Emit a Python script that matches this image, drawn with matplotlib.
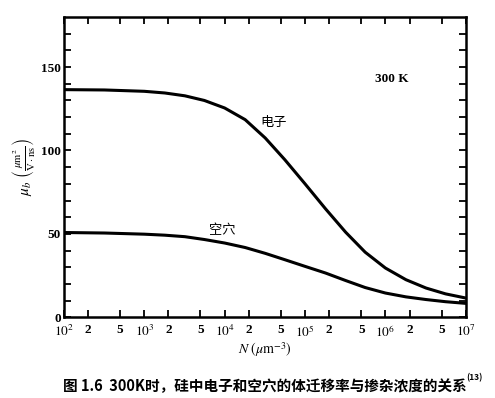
"""
300K 时硅中电子和空穴的体迁移率与掺杂浓度的关系
"""

import matplotlib
matplotlib.use("Agg")
import matplotlib.pyplot as plt

# 数据，N 单位 μm^-3，迁移率单位 μm^2/(V·ns)
n_values = [1e2, 3.2e2, 1e3, 1.8e3, 3.2e3, 5.6e3, 1e4, 1.8e4, 3.2e4, 5.6e4,
            1e5, 1.8e5, 3.2e5, 5.6e5, 1e6, 1.8e6, 3.2e6, 5.6e6, 1e7]
mu_electron = [136.5, 136.3, 135.5, 134.5, 132.8, 130.0, 125.5, 118.5, 107.5,
               94.5, 80.0, 65.0, 51.0, 39.0, 29.5, 22.5, 17.5, 14.0, 11.5]
mu_hole = [50.8, 50.5, 49.8, 49.2, 48.3, 46.6, 44.5, 41.8, 38.3,
           34.5, 30.5, 26.5, 22.0, 17.8, 14.5, 12.2, 10.6, 9.3, 8.3]

x_ticks = [1e2, 2e2, 5e2, 1e3, 2e3, 5e3, 1e4, 2e4, 5e4, 1e5, 2e5, 5e5,
           1e6, 2e6, 5e6, 1e7]
x_tick_labels = [r"$10^2$", "2", "5", r"$10^3$", "2", "5", r"$10^4$", "2", "5",
                 r"$10^5$", "2", "5", r"$10^6$", "2", "5", r"$10^7$"]
y_ticks = [0, 50, 100, 150]

plt.rcParams["mathtext.fontset"] = "stix"
cjk = ["Noto Sans CJK SC", "DejaVu Sans"]

fig = plt.figure(figsize=(4.95, 3.98), dpi=100)
ax = fig.add_axes([0.129, 0.203, 0.812, 0.754])

ax.plot(n_values, mu_electron, color="black", linewidth=2.2)
ax.plot(n_values, mu_hole, color="black", linewidth=2.2)

ax.set_xscale("log")
ax.set_xlim(1e2, 1e7)
ax.set_ylim(0, 180)

ax.set_xticks(x_ticks)
ax.set_xticklabels(x_tick_labels)
ax.xaxis.set_minor_locator(matplotlib.ticker.NullLocator())
ax.set_yticks(y_ticks)
ax.set_yticks(range(10, 180, 10), minor=True)

for lbl in ax.get_xticklabels() + ax.get_yticklabels():
    lbl.set_fontfamily("Liberation Serif")
    lbl.set_fontweight("bold")
    lbl.set_fontsize(9.5)

ax.tick_params(which="both", direction="in", top=True, right=True,
               length=5, width=1.3)
ax.tick_params(axis="x", pad=5)
ax.tick_params(axis="y", pad=2)

for spine in ax.spines.values():
    spine.set_linewidth(1.8)

ax.set_xlabel(r"$N\ (\mu\mathrm{m}^{-3})$", fontsize=10, labelpad=0)
ax.set_ylabel(r"$\mu_b\ \left(\frac{\mu\mathrm{m}^2}{\mathrm{V\cdot ns}}\right)$",
              fontsize=11, labelpad=2)

ax.text(1.2e6, 143, "300 K", fontfamily="Liberation Serif", fontweight="bold",
        fontsize=9.5, ha="center", va="center")
ax.text(4.1e4, 117, "电子", family=cjk, fontsize=9.5, ha="center", va="center")
ax.text(9.4e3, 52, "空穴", family=cjk, fontsize=9.5, ha="center", va="center")

caption = fig.text(0.127, 0.018, "图 1.6  300K时，硅中电子和空穴的体迁移率与掺杂浓度的关系",
                   family=cjk, fontweight="bold", fontsize=10.5, ha="left", va="baseline")
ax.annotate("(13)", xy=(1.0, 0.75), xycoords=caption, fontsize=6,
            fontweight="bold", family=cjk, ha="left", va="bottom",
            annotation_clip=False)

fig.savefig("out.png", dpi=100)
